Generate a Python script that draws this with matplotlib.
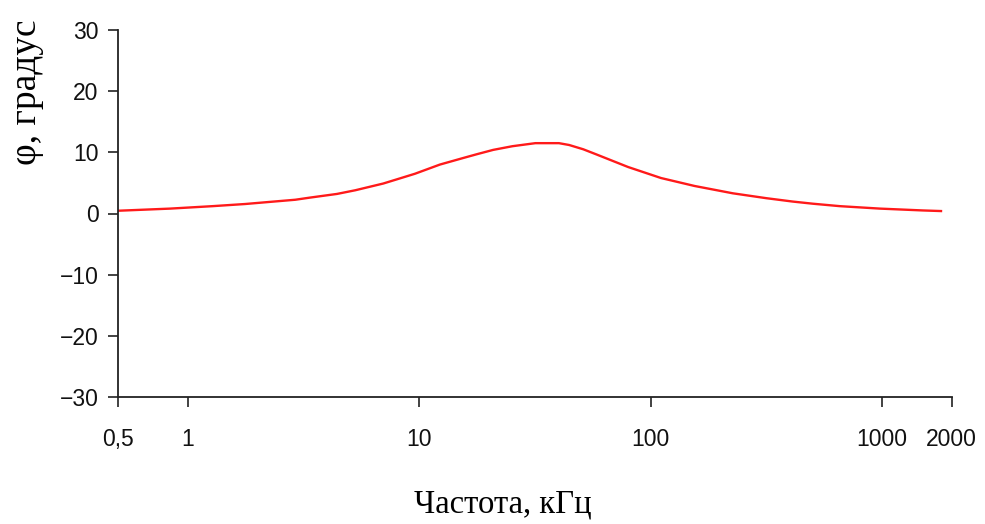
import numpy as np
import matplotlib
matplotlib.use("Agg")
import matplotlib.pyplot as plt
from matplotlib.ticker import FixedLocator, FixedFormatter, NullLocator

# -----------------------------
# DATA
# -----------------------------
freq_khz = [0.5, 0.84, 1.28, 1.77, 2.27, 2.92, 3.38, 4.42, 5.3, 7.0, 8.2, 9.6,
            12.3, 15.6, 17.8, 20.9, 25.3, 31.8, 40.2, 44.5, 51.2, 58.0, 80.0,
            111, 155, 227, 317, 412, 503, 658, 980, 1500, 1800]
phase_deg = [0.45, 0.8, 1.2, 1.55, 1.9, 2.25, 2.6, 3.2, 3.8, 4.9, 5.7, 6.5,
             8.0, 9.1, 9.7, 10.4, 11.0, 11.5, 11.5, 11.2, 10.5, 9.7, 7.6,
             5.8, 4.5, 3.3, 2.5, 1.95, 1.6, 1.2, 0.8, 0.5, 0.4]

x_ticks = [0.5, 1, 10, 100, 1000, 2000]
x_tick_labels = ["0,5", "1", "10", "100", "1000", "2000"]
y_ticks = [-30, -20, -10, 0, 10, 20, 30]
y_tick_labels = ["\u221230", "\u221220", "\u221210", "0", "10", "20", "30"]

# -----------------------------
# PLOT
# -----------------------------
fig = plt.figure(figsize=(9.85, 5.24), dpi=100)
ax = fig.add_axes([118 / 985, 1 - 397 / 524, (951.6 - 118) / 985, (397 - 30) / 524])

ax.plot(freq_khz, phase_deg, color="#ff1a1a", linewidth=1.7)

ax.set_xscale("log")
ax.set_xlim(0.5, 2000)
ax.set_ylim(-30, 30)

ax.xaxis.set_major_locator(FixedLocator(x_ticks))
ax.xaxis.set_major_formatter(FixedFormatter(x_tick_labels))
ax.xaxis.set_minor_locator(NullLocator())
ax.set_yticks(y_ticks)
ax.set_yticklabels(y_tick_labels)

for side in ["top", "right"]:
    ax.spines[side].set_visible(False)
for side in ["left", "bottom"]:
    ax.spines[side].set_linewidth(1.3)
    ax.spines[side].set_color("#222222")

ax.tick_params(axis="both", direction="out", length=7, width=1.2, color="#222222")
ax.tick_params(axis="x", pad=15)
ax.tick_params(axis="y", pad=7)
for lbl in ax.get_xticklabels() + ax.get_yticklabels():
    lbl.set_family(["Liberation Sans", "DejaVu Sans"])
    lbl.set_fontsize(16.5)
    lbl.set_color("#111111")

fig.text(503 / 985, 1 - 504 / 524, "Частота, кГц", ha="center", va="center",
         family=["Liberation Serif", "DejaVu Serif"], fontsize=23.5)
fig.text(27 / 985, 1 - 92 / 524, "φ, градус", ha="center", va="center",
         rotation=90, family=["Liberation Serif", "DejaVu Serif"], fontsize=27)

fig.savefig("out.png", dpi=100)
